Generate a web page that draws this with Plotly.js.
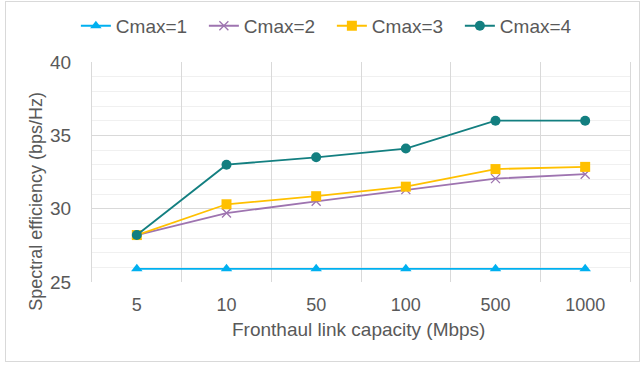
<!DOCTYPE html>
<html><head><meta charset="utf-8">
<script src="https://cdn.plot.ly/plotly-3.0.1.min.js"></script>
<style>
body{margin:0;padding:0;background:#fff;}
#wrap{position:relative;width:643px;height:365px;overflow:hidden;}
#frame{position:absolute;left:5px;top:1px;width:635px;height:361px;border:1px solid #d9d9d9;box-sizing:border-box;pointer-events:none;z-index:5;}
#chart{position:absolute;left:0;top:0;width:643px;height:365px;}
</style></head>
<body><div id="wrap"><div id="chart"></div><div id="frame"></div></div>
<script>
const categories = ["5", "10", "50", "100", "500", "1000"];
const seriesNames = ["Cmax=1", "Cmax=2", "Cmax=3", "Cmax=4"];
const cmax1 = [25.9, 25.9, 25.9, 25.9, 25.9, 25.9];
const cmax2 = [28.2, 29.7, 30.5, 31.3, 32.05, 32.35];
const cmax3 = [28.2, 30.3, 30.85, 31.5, 32.7, 32.85];
const cmax4 = [28.2, 33.0, 33.5, 34.1, 36.0, 36.0];
const yTicks = [25, 30, 35, 40];
const xTitle = "Fronthaul link capacity (Mbps)";
const yTitle = "Spectral efficiency (bps/Hz)";

const colors = ["#00B0F0", "#9E74B0", "#FFC000", "#137F80"];
const symbols = ["triangle-up", "x-thin-open", "square", "circle"];
const sizes = [10, 9, 10, 10];
const values = [cmax1, cmax2, cmax3, cmax4];

const traces = values.map((v, i) => ({
  type: "scatter", mode: "lines+markers",
  x: categories, y: v, name: seriesNames[i],
  line: {color: colors[i], width: 1.8},
  marker: {symbol: symbols[i], size: sizes[i], color: colors[i], line: {color: colors[i], width: i === 1 ? 1.3 : 0}}
}));

const font = "Liberation Sans, Arial, sans-serif";
const layout = {
  width: 643, height: 365,
  margin: {l: 92, r: 13, t: 62, b: 83},
  paper_bgcolor: "#ffffff", plot_bgcolor: "#ffffff",
  font: {family: font, color: "#595959", size: 16},
  showlegend: true,
  legend: {orientation: "h", xref: "container", x: 0.118, xanchor: "left", yref: "container", y: 0.929, yanchor: "middle",
           font: {size: 19, color: "#595959"}, itemwidth: 30, entrywidth: 83, entrywidthmode: "pixels",
           tracegroupgap: 0, traceorder: "normal"},
  xaxis: {
    type: "category", range: [-0.5, 5.5], tickson: "boundaries", showgrid: true, gridcolor: "#d9d9d9", gridwidth: 1,
    ticks: "", showline: false, zeroline: false, ticklabelstandoff: 10,
    tickfont: {size: 18, color: "#595959"}
  },
  yaxis: {
    range: [25, 40], tickvals: yTicks, ticktext: yTicks.map(String),
    showgrid: true, gridcolor: "#d9d9d9", gridwidth: 1, zeroline: false,
    showline: true, mirror: true, linecolor: "#d9d9d9", linewidth: 1,
    ticks: "", ticklen: 0, ticklabelstandoff: 16,
    tickfont: {size: 19, color: "#595959"},
    minor: {dtick: 1, showgrid: true, gridcolor: "#f0f0f0", gridwidth: 1}
  },
  annotations: [
    {text: xTitle, xref: "paper", yref: "paper", x: 0.495, y: -0.218, xanchor: "center", yanchor: "middle",
     showarrow: false, font: {size: 19, color: "#595959"}},
    {text: yTitle, xref: "paper", yref: "paper", x: -0.104, y: 0.365, xanchor: "center", yanchor: "middle",
     textangle: -90, showarrow: false, font: {size: 18, color: "#595959"}}
  ]
};
Plotly.newPlot("chart", traces, layout, {displayModeBar: false, staticPlot: true});
</script></body></html>
